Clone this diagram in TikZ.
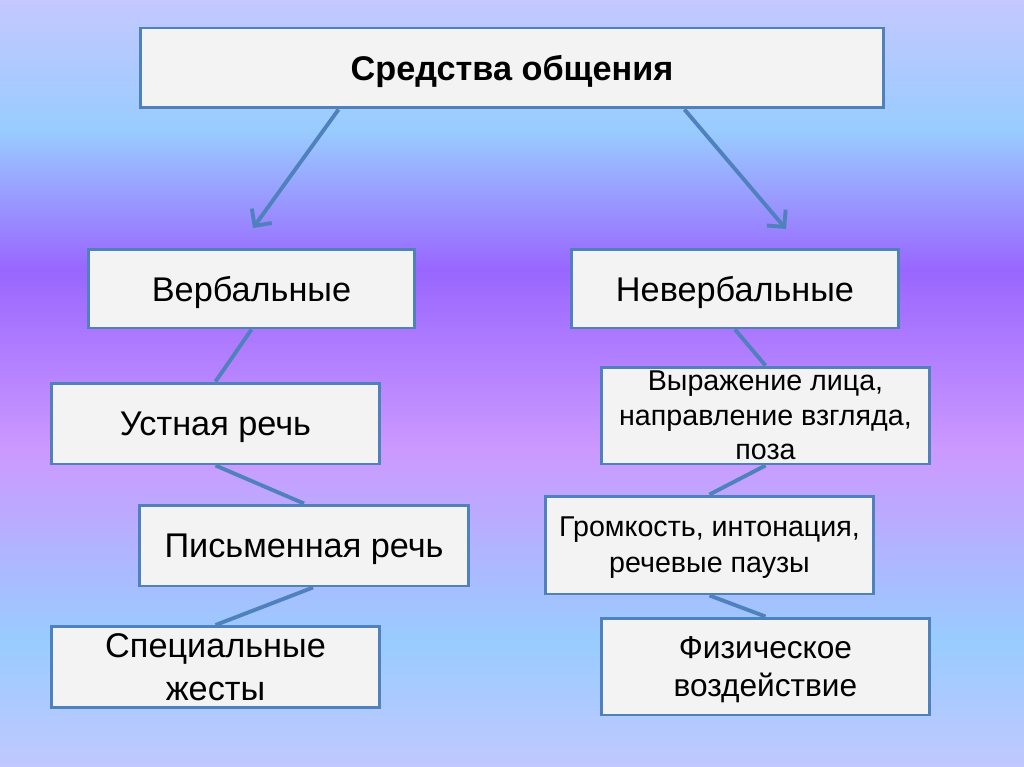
\documentclass[tikz,border=0pt]{standalone}
\usepackage{fontspec}
\setmainfont{Liberation Sans}
\usetikzlibrary{positioning,arrows.meta}
\definecolor{boxline}{HTML}{4F81BD}
\definecolor{boxfill}{HTML}{F3F3F3}
\definecolor{bgA}{HTML}{C0C8FF}
\definecolor{bgB}{HTML}{99CCFF}
\definecolor{bgC}{HTML}{CC99FF}
\definecolor{bgD}{HTML}{9966FF}
\definecolor{bgE}{HTML}{C4C8FF}
\pgfdeclareverticalshading{slidebg}{100bp}{color(0bp)=(bgA); color(25bp)=(bgA);
  color(33.28bp)=(bgB); color(45.66bp)=(bgC); color(57.4bp)=(bgD);
  color(66.53bp)=(bgB); color(75bp)=(bgE); color(100bp)=(bgE)}
\tikzset{
  block/.style={draw=boxline, line width=1.7pt, fill=boxfill, align=center,
    inner sep=2pt, minimum width=6.58cm, minimum height=1.62cm, text depth=-2.6pt,
    font=\fontsize{19.5}{24}\selectfont},
  small block/.style={block, text depth=-0.6pt, font=\fontsize{16.3}{19.6}\selectfont},
  link/.style={draw=boxline, line width=2.2pt},
  branch/.style={link, -{Straight Barb[length=7pt,width=14pt]}},
}
\begin{document}
\begin{tikzpicture}[x=0.02cm,y=-0.02cm]
  % background
  \shade[shading=slidebg] (0,0) rectangle (1024,767);
  \useasboundingbox (0,0) rectangle (1024,767);

  % top level
  \node[block, minimum width=14.88cm, minimum height=1.6cm, text depth=-0.5pt,
    font=\bfseries\fontsize{19.5}{24}\selectfont] (means) at (512,68) {Средства общения};
  \node[block, minimum width=6.54cm, minimum height=1.58cm] (verb) at (251.5,288.5) {Вербальные};
  \node[block, minimum width=6.56cm, minimum height=1.58cm] (nonverb) at (735,288.5) {Невербальные};

  % verbal side
  \node[block] (oral) at (215.5,423.5) {Устная речь};
  \node[block] (written) at (304,545.5) {Письменная речь};
  \node[block, text depth=0pt] (signs) at (215.5,667) {Специальные\\жесты};

  % nonverbal side
  \node[small block, minimum height=1.94cm] (face) at (765.5,415.5)
    {Выражение лица,\\направление взгляда,\\поза};
  \node[small block, minimum height=1.96cm, font=\fontsize{16.3}{20.6}\selectfont] (voice) at (709.5,545)
    {Громкость, интонация,\\речевые паузы};
  \node[block, minimum height=1.94cm, font=\fontsize{18}{21.5}\selectfont] (touch) at (765.5,666.5)
    {Физическое\\воздействие};

  \coordinate (verbtip) at (253,228);
  \coordinate (nonverbtip) at (786,229);

  \draw[branch] ([xshift=4cm]means.south west) -- (verbtip);
  \draw[branch] ([xshift=-4.02cm]means.south east) -- (nonverbtip);

  \draw[link] (verb.south) -- (oral.north);
  \draw[link] (oral.south) -- (written.north);
  \draw[link] ([xshift=0.18cm]written.south) -- (signs.north);
  \draw[link] (nonverb.south) -- (face.north);
  \draw[link] (face.south) -- (voice.north);
  \draw[link] (voice.south) -- (touch.north);
\end{tikzpicture}
\end{document}
